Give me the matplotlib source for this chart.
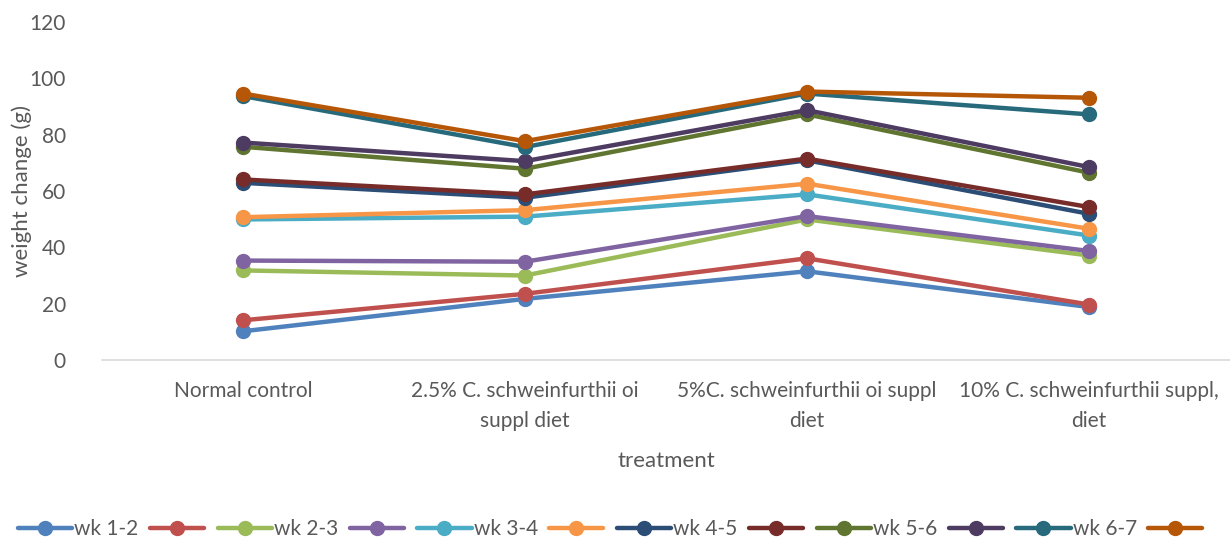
import matplotlib.pyplot as plt
import numpy as np

plt.rcParams['font.family'] = ['Lato', 'DejaVu Sans']

# treatment groups on the x axis
treatments = ["Normal control",
              "2.5% C. schweinfurthii oi\nsuppl diet",
              "5%C. schweinfurthii oi suppl\ndiet",
              "10% C. schweinfurthii suppl,\ndiet"]

# weekly weight change (g), one list per series
wk12 = [10.2, 21.7, 31.5, 18.8]
wk12b = [14.1, 23.5, 36.1, 19.7]
wk23 = [31.8, 30.0, 49.9, 37.1]
wk23b = [35.3, 34.9, 51.1, 38.7]
wk34 = [49.9, 50.9, 58.8, 44.2]
wk34b = [50.7, 53.2, 62.6, 46.6]
wk45 = [62.9, 57.6, 70.9, 51.9]
wk45b = [64.1, 58.8, 71.5, 54.3]
wk56 = [75.7, 67.9, 87.2, 66.5]
wk56b = [77.2, 70.6, 88.7, 68.5]
wk67 = [93.7, 75.6, 94.6, 87.2]
wk67b = [94.6, 77.7, 95.3, 93.1]

series = [wk12, wk12b, wk23, wk23b, wk34, wk34b,
          wk45, wk45b, wk56, wk56b, wk67, wk67b]
labels = ["wk 1-2", "", "wk 2-3", "", "wk 3-4", "",
          "wk 4-5", "", "wk 5-6", "", "wk 6-7", ""]
colors = ["#4F81BD", "#C0504D", "#9BBB59", "#8064A2", "#4BACC6", "#F79646",
          "#2C4D75", "#772C2A", "#5F7530", "#4D3B62", "#276A7C", "#B65708"]

txt = "#595959"

fig = plt.figure(figsize=(12.3, 5.37), dpi=100)
ax = fig.add_axes([102 / 1230, 177 / 537, 1128 / 1230, 338 / 537])

x = np.arange(len(treatments))
handles = []
for vals, c in zip(series, colors):
    h, = ax.plot(x, vals, color=c, lw=3.2, marker='o', ms=10,
                 solid_capstyle='round')
    handles.append(h)

ax.set_xlim(-0.5, 3.5)
ax.set_ylim(0, 120)
ax.set_yticks(range(0, 121, 20))
ax.set_xticks(x)
ax.set_xticklabels(treatments, fontsize=15, color=txt, linespacing=1.65)
ax.tick_params(axis='y', labelsize=15, colors=txt, length=0, pad=26)
ax.tick_params(axis='x', length=0, pad=15)

for s in ['top', 'right', 'left']:
    ax.spines[s].set_visible(False)
ax.spines['bottom'].set_color('#D9D9D9')
ax.spines['bottom'].set_linewidth(1.2)

ax.set_xlabel("treatment", fontsize=16, color=txt, labelpad=14)
ax.set_ylabel("weight change (g)", fontsize=16, color=txt)
ax.yaxis.set_label_coords(-0.062, 0.5)

fig.legend(handles, labels, loc='center', bbox_to_anchor=(0.497, 0.015),
           ncol=12, frameon=False, fontsize=15, handlelength=2.6,
           handletextpad=0.1, columnspacing=0.55, labelcolor=txt)

fig.savefig("out.png", dpi=100)
